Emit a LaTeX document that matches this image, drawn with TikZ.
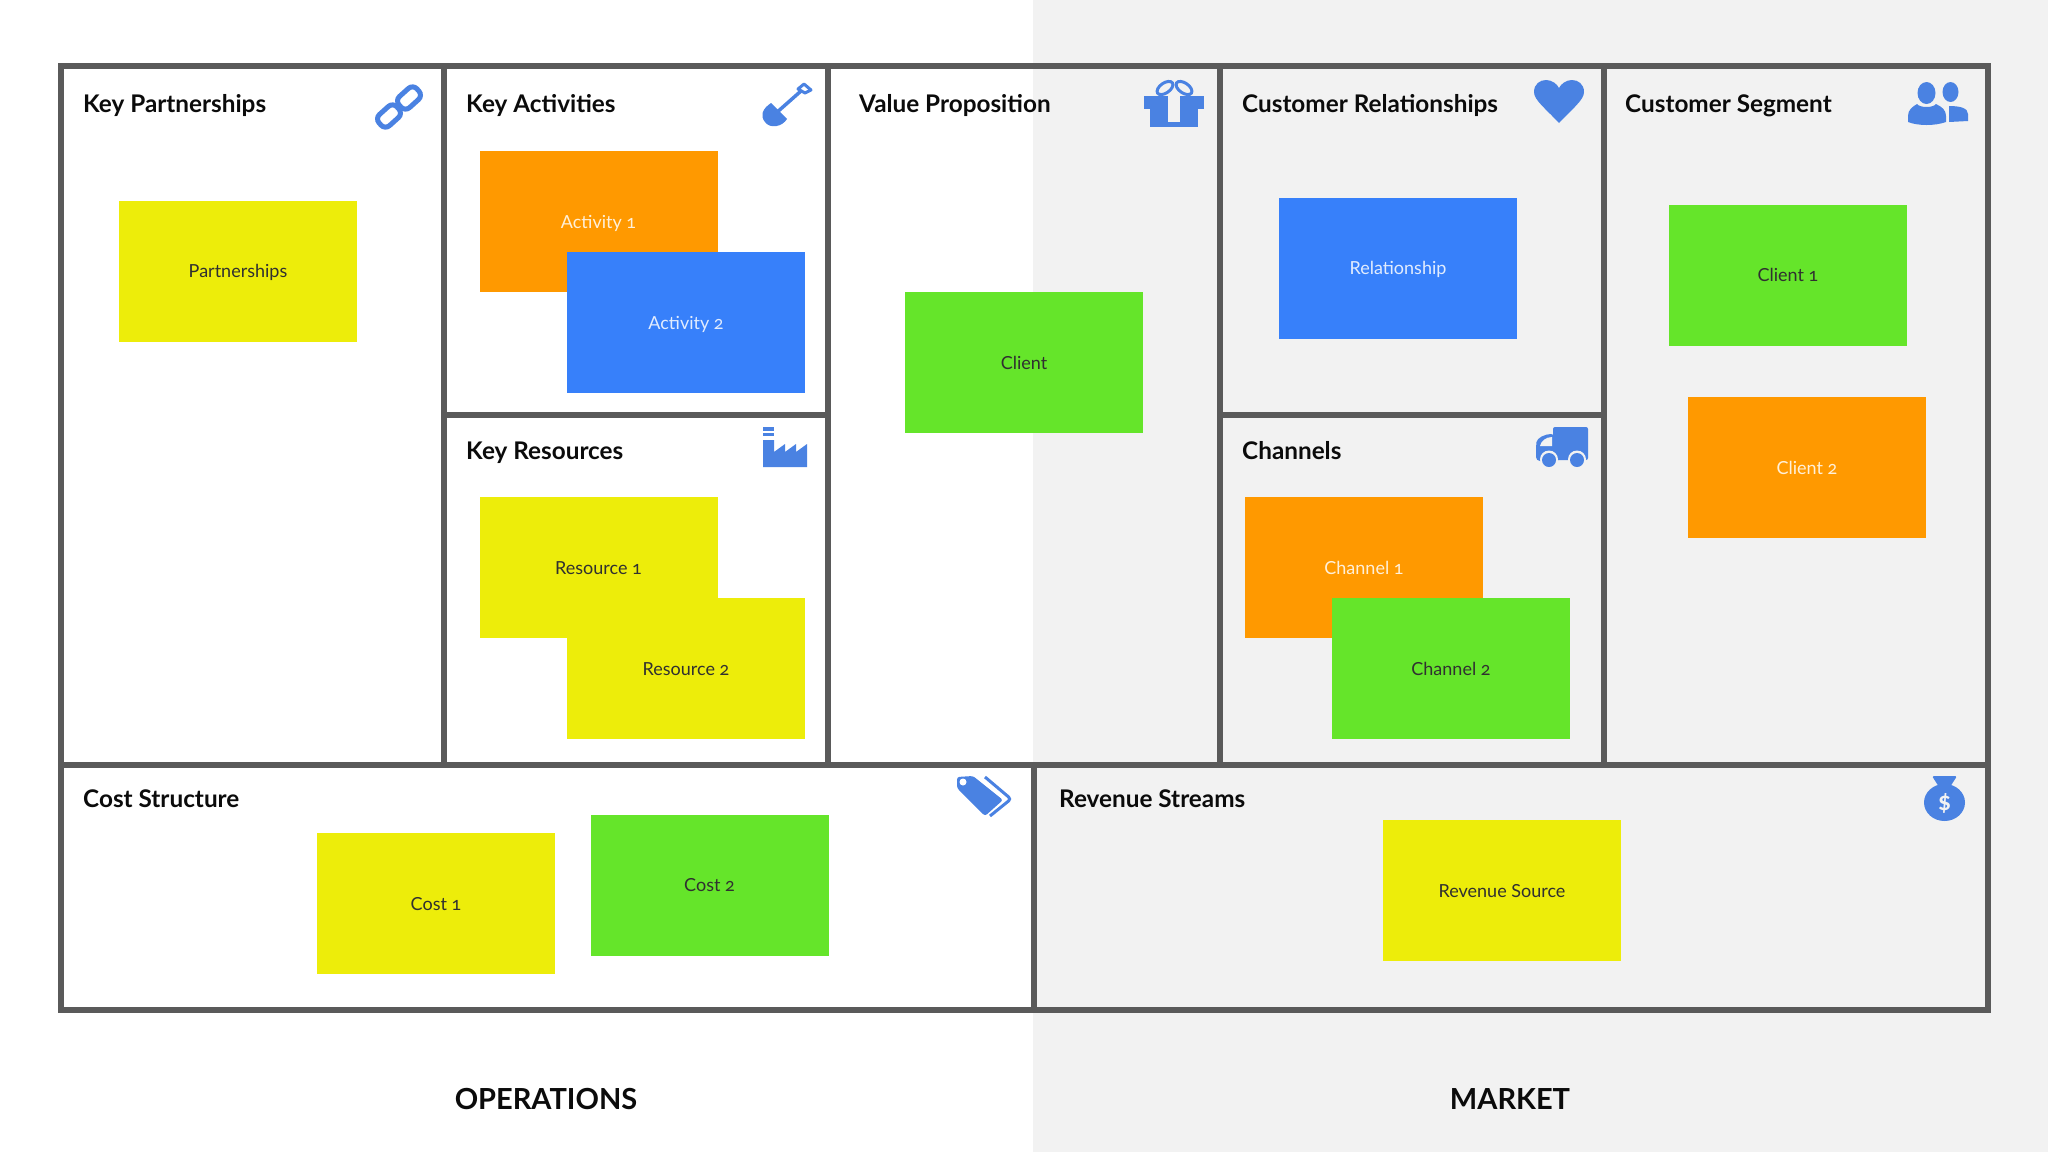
\documentclass[tikz,border=0pt]{standalone}
\usepackage{fontspec}
\setmainfont[Numbers=OldStyle]{Lato}
\usetikzlibrary{positioning}
\definecolor{ink}{HTML}{0B0B0B}
\definecolor{rulegray}{HTML}{5A5A5A}
\definecolor{marketbg}{HTML}{F2F2F2}
\definecolor{iconblue}{HTML}{4A82E2}
\definecolor{noteyellow}{HTML}{EDED0A}
\definecolor{noteorange}{HTML}{FF9900}
\definecolor{noteblue}{HTML}{3780FA}
\definecolor{notegreen}{HTML}{65E52A}
\newcommand{\titlefont}{\fontsize{24.3}{28}\selectfont\bfseries}
\newcommand{\notefont}{\fontsize{18}{22}\selectfont}
\newcommand{\sidefont}{\fontsize{29}{34}\selectfont\bfseries}
\tikzset{
  frame/.style={draw=rulegray,line width=5.5pt},
  paneltitle/.style={font=\titlefont,text=ink,anchor=base west,inner sep=0pt},
  sidelabel/.style={font=\sidefont,text=ink,anchor=base,inner sep=0pt},
  note/.style={font=\notefont,minimum width=238pt,minimum height=141pt,inner sep=0pt,
               text height=13pt,text depth=0pt,fill=#1},
  darknote/.style={note=#1,text=ink!85},
  lightnote/.style={note=#1,text=white!85!#1},
  icon/.style={fill=iconblue,draw=none},
  iconline/.style={draw=iconblue,fill=none},
}
\begin{document}
\begin{tikzpicture}[x=1pt,y=-1pt]
  \useasboundingbox (0,0) rectangle (2048,1152);
  \fill[white] (0,0) rectangle (2048,1152);
  \fill[marketbg] (1033,0) rectangle (2048,1152);

  % ---------- canvas grid ----------
  \draw[frame] (61,66) rectangle (1988,1010);
  \draw[frame] (61,765) -- (1988,765);
  \draw[frame] (444,66) -- (444,765);
  \draw[frame] (828,66) -- (828,765);
  \draw[frame] (1220,66) -- (1220,765);
  \draw[frame] (1604,66) -- (1604,765);
  \draw[frame] (444,415) -- (828,415);
  \draw[frame] (1220,415) -- (1604,415);
  \draw[frame] (1034,765) -- (1034,1010);

  % ---------- panel titles ----------
  \node[paneltitle] (partnerstitle) at (83,112.5) {Key Partnerships};
  \node[paneltitle] (activitiestitle) at (466,112.5) {Key Activities};
  \node[paneltitle] (resourcestitle) at (466,459.5) {Key Resources};
  \node[paneltitle] (valuetitle) at (859,112.5) {Value Proposition};
  \node[paneltitle] (relationstitle) at (1242,112.5) {Customer Relationships};
  \node[paneltitle] (channelstitle) at (1242,459.5) {Channels};
  \node[paneltitle] (segmenttitle) at (1625,112.5) {Customer Segment};
  \node[paneltitle] (coststitle) at (83,807.5) {Cost Structure};
  \node[paneltitle] (revenuetitle) at (1059,807.5) {Revenue Streams};

  % ---------- sticky notes ----------
  \node[darknote=noteyellow] (partnerships) at (238,271) {Partnerships};
  \node[lightnote=noteorange] (activity1) at (598.5,221.5) {Activity 1};
  \node[lightnote=noteblue] (activity2) at (686,322.5) {Activity 2};
  \node[darknote=noteyellow] (resource1) at (598.5,567.5) {Resource 1};
  \node[darknote=noteyellow] (resource2) at (686,668.5) {Resource 2};
  \node[darknote=notegreen] (client) at (1024,362.5) {Client};
  \node[lightnote=noteblue] (relationship) at (1398,268) {Relationship};
  \node[lightnote=noteorange] (channel1) at (1364,567.5) {Channel 1};
  \node[darknote=notegreen] (channel2) at (1451,668.5) {Channel 2};
  \node[darknote=notegreen] (client1) at (1788,275) {Client 1};
  \node[lightnote=noteorange] (client2) at (1807,467.5) {Client 2};
  \node[darknote=noteyellow] (cost1) at (436,903.5) {Cost 1};
  \node[darknote=notegreen] (cost2) at (709.5,885) {Cost 2};
  \node[darknote=noteyellow] (revenue) at (1502,890.5) {Revenue Source};

  % ---------- icons ----------
  % chain
  \draw[iconline,line width=5pt,rounded corners=6pt,rotate around={42:(409,98)}]
       (397,90.5) rectangle (421,105.5);
  \draw[iconline,line width=5pt,rounded corners=6pt,rotate around={42:(389,116)}]
       (377,108.5) rectangle (401,123.5);
  % shovel
  \draw[iconline,line width=3.5pt] (775,114) -- (801,91);
  \draw[iconline,line width=3pt,line join=round] (798,89) -- (804,84) -- (811,90) -- (805,93) -- cycle;
  \fill[icon] (771,103) -- (787,119) .. controls (782,127) and (770,129) .. (765,122)
       .. controls (760,116) and (762,109) .. (771,103);
  % factory
  \fill[icon] (763,427) rectangle (774,431);
  \fill[icon] (763,433) rectangle (774,436);
  \fill[icon] (763,440) -- (774,440) -- (774,452) -- (785,444) -- (785,452) -- (796,444)
       -- (796,452) -- (807,444) -- (807,467) -- (763,467) -- cycle;
  % gift
  \draw[iconline,line width=3pt,rotate around={35:(1165,88)}] (1165,88) ellipse (9 and 5);
  \draw[iconline,line width=3pt,rotate around={-35:(1184,88)}] (1184,88) ellipse (9 and 5);
  \fill[icon] (1144,96) rectangle (1204,109);
  \fill[icon] (1150,109) rectangle (1198,127);
  \fill[marketbg] (1168,94) rectangle (1180,122);
  % heart
  \fill[icon] (1559,123) .. controls (1545,108) and (1534,100) .. (1534,92)
       .. controls (1534,84) and (1540,80) .. (1546,80)
       .. controls (1552,80) and (1557,84) .. (1559,88)
       .. controls (1561,84) and (1566,80) .. (1572,80)
       .. controls (1578,80) and (1584,84) .. (1584,92)
       .. controls (1584,100) and (1573,108) .. (1559,123);
  % people
  \fill[icon] (1950.5,92) ellipse (8 and 10);
  \fill[icon] (1949,106) .. controls (1960,106) and (1968,108) .. (1968,114)
       -- (1968,121) -- (1949,122) -- cycle;
  \fill[marketbg] (1926.5,93) ellipse (11 and 13);
  \fill[icon] (1926.5,93) ellipse (9 and 11);
  \fill[icon] (1917,104) .. controls (1920,108) and (1933,108) .. (1936,104)
       .. controls (1942,107) and (1946,110) .. (1946,116)
       -- (1946,122) .. controls (1935,126) and (1918,126) .. (1908,122)
       -- (1908,116) .. controls (1908,110) and (1912,107) .. (1917,104);
  % truck
  \fill[icon,rounded corners=2pt] (1553,427) rectangle (1588,460);
  \fill[icon,rounded corners=4pt] (1536,461) -- (1536,446) .. controls (1537,438) and (1545,434) .. (1555,434)
       -- (1560,461) -- cycle;
  \fill[marketbg] (1540,446) .. controls (1541,441) and (1546,437) .. (1552,437) -- (1552,446) -- cycle;
  \fill[marketbg] (1549,459.5) circle (9);
  \fill[marketbg] (1577,459.5) circle (9);
  \fill[icon] (1549,460) circle (7);
  \fill[icon] (1577,460) circle (7);
  % price tags
  \fill[icon,rounded corners=2.5pt] (957,777) -- (973,776) -- (1003,800) -- (985,816) -- (957,788) -- cycle;
  \fill[white] (963,782) circle (3.5);
  \draw[iconline,line width=3pt,rounded corners=3pt] (985,777) -- (1011,799) -- (990,816);
  % money bag
  \fill[icon,rounded corners=1.5pt] (1932,776) -- (1957,776) -- (1950,787) -- (1939,787) -- cycle;
  \fill[icon] (1944.5,802.5) ellipse (20.5 and 18.5);
  \node[font=\fontsize{25}{25}\selectfont\bfseries,text=marketbg,inner sep=0pt] (dollar) at (1944.5,803) {\$};

  % ---------- bottom labels ----------
  \node[sidelabel] (operations) at (546,1109) {OPERATIONS};
  \node[sidelabel] (market) at (1510,1109) {MARKET};
\end{tikzpicture}
\end{document}
